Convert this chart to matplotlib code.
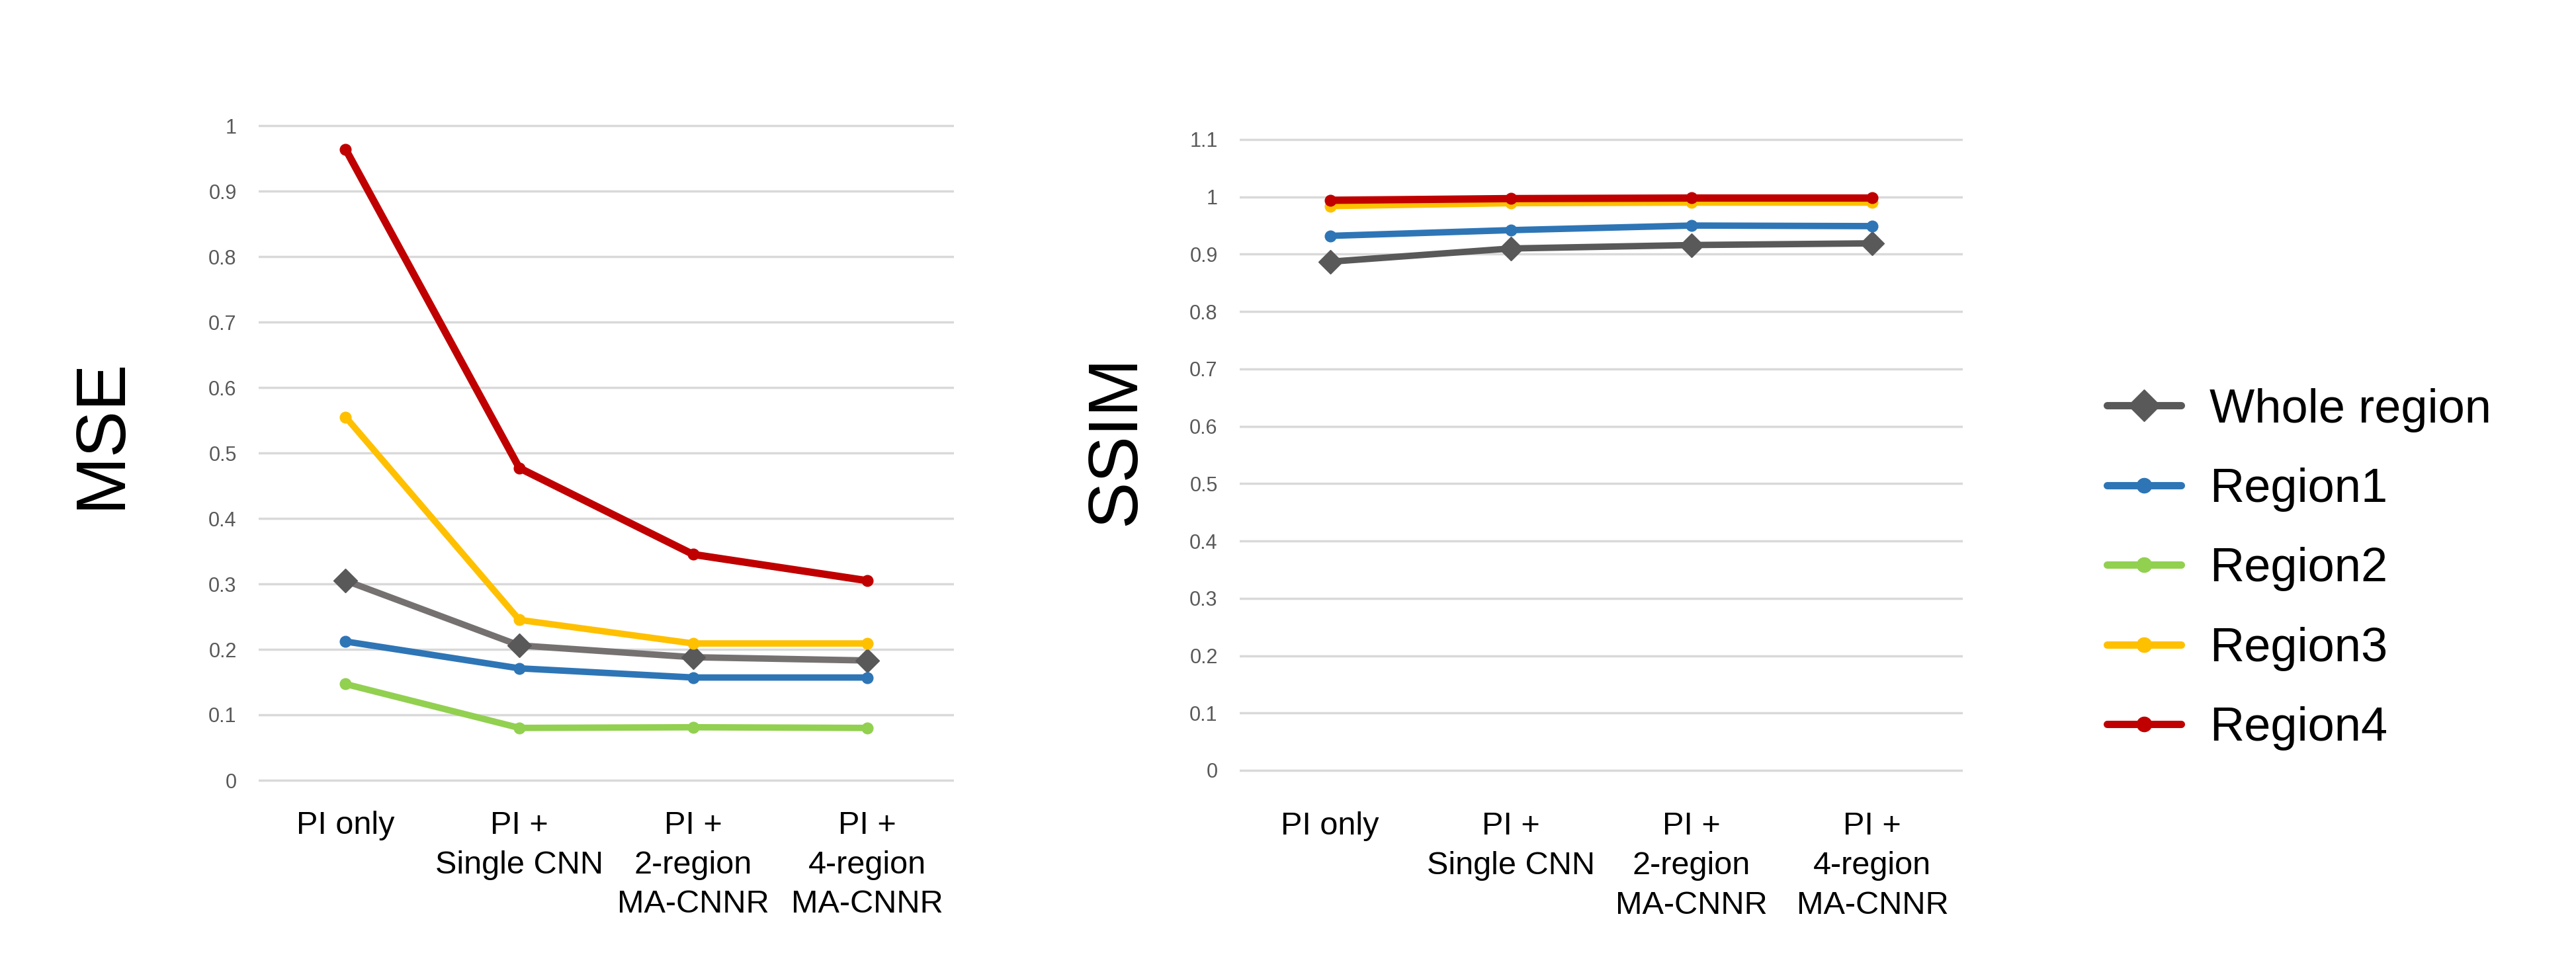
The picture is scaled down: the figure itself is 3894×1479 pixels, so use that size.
import matplotlib
matplotlib.use("Agg")
import matplotlib.pyplot as plt
from matplotlib.lines import Line2D

# categories on x axis
categories = ["PI only", "PI +\nSingle CNN", "PI +\n2-region\nMA-CNNR", "PI +\n4-region\nMA-CNNR"]
series_names = ["Whole region", "Region1", "Region2", "Region3", "Region4"]

# MSE values
mse_whole = [0.305, 0.206, 0.188, 0.183]
mse_r1 = [0.212, 0.171, 0.157, 0.157]
mse_r2 = [0.147, 0.080, 0.081, 0.080]
mse_r3 = [0.555, 0.245, 0.209, 0.209]
mse_r4 = [0.964, 0.477, 0.345, 0.305]

# SSIM values (Region2 is not drawn there)
ssim_whole = [0.887, 0.910, 0.916, 0.919]
ssim_r1 = [0.932, 0.942, 0.950, 0.949]
ssim_r3 = [0.984, 0.989, 0.990, 0.990]
ssim_r4 = [0.994, 0.997, 0.998, 0.998]

mse_ticks = [0, 0.1, 0.2, 0.3, 0.4, 0.5, 0.6, 0.7, 0.8, 0.9, 1]
ssim_ticks = [0, 0.1, 0.2, 0.3, 0.4, 0.5, 0.6, 0.7, 0.8, 0.9, 1, 1.1]

colors = ["#595959", "#2E75B6", "#92D050", "#FFC000", "#C00000"]
markers = ["D", "o", "o", "o", "o"]
widths = [7, 7, 7, 7, 8]

arial = ["Liberation Sans", "DejaVu Sans"]

fig = plt.figure(figsize=(38.94, 14.79), dpi=100)

W, H = 3894.0, 1479.0


def make_axes(x0, x1, ytop, ybot, vtop):
	# place axes so that value 0 sits at ybot and vtop at ytop (pixels from top)
	pad = 0.01 * vtop
	span = (ybot - ytop) / vtop
	top = ytop - pad * span
	bot = ybot + pad * span
	ax = fig.add_axes([x0 / W, 1 - bot / H, (x1 - x0) / W, (bot - top) / H])
	ax.set_ylim(-pad, vtop + pad)
	ax.set_xlim(-0.5, 3.5)
	return ax


def style_axes(ax, ticks, label_pad):
	for s in ax.spines.values():
		s.set_visible(False)
	ax.set_yticks(ticks)
	ax.set_yticklabels(["%g" % t for t in ticks], family=arial, fontsize=22, color="#595959")
	ax.set_xticks(range(len(categories)))
	ax.set_xticklabels(categories, family=arial, fontsize=35, color="black", linespacing=1.42, va="top")
	ax.tick_params(axis="y", length=0, pad=24)
	ax.tick_params(axis="x", length=0, pad=label_pad)
	ax.grid(axis="y", color="#D9D9D9", linewidth=2.5)
	ax.set_axisbelow(True)


x = list(range(len(categories)))

# left chart: MSE
ax1 = make_axes(391, 1442, 190, 1180, 1.0)
mse = [mse_whole, mse_r1, mse_r2, mse_r3, mse_r4]
for i, vals in enumerate(mse):
	lc = "#767171" if i == 0 else colors[i]
	ms = 18 if markers[i] == "D" else 12
	ax1.plot(x, vals, color=lc, linewidth=widths[i], marker=markers[i], markersize=ms,
		markerfacecolor=colors[i], markeredgecolor=colors[i], solid_capstyle="round", zorder=3)
style_axes(ax1, mse_ticks, 26)

# right chart: SSIM
ax2 = make_axes(1874, 2967, 211, 1165, 1.1)
ssim = {0: ssim_whole, 1: ssim_r1, 3: ssim_r3, 4: ssim_r4}
for i, vals in ssim.items():
	ms = 18 if markers[i] == "D" else 12
	ax2.plot(x, vals, color=colors[i], linewidth=widths[i], marker=markers[i], markersize=ms,
		markerfacecolor=colors[i], markeredgecolor=colors[i], solid_capstyle="round", zorder=3)
style_axes(ax2, ssim_ticks, 38)

# axis titles
fig.text(154 / W, 1 - 656 / H, "MSE", rotation=90, ha="center", va="center", fontsize=76, family=arial)
fig.text(1688 / W, 1 - 666 / H, "SSIM", rotation=90, ha="center", va="center", fontsize=76, family=arial)

# legend
handles = []
for i, name in enumerate(series_names):
	ms = 24 if markers[i] == "D" else 16
	handles.append(Line2D([0], [0], color=colors[i], linewidth=8, marker=markers[i], markersize=ms,
		solid_capstyle="round", label=name))
leg = fig.legend(handles=handles, loc="center left", bbox_to_anchor=(3185 / W, 1 - 861 / H),
	frameon=False, prop={"family": arial, "size": 52}, handlelength=1.55, handletextpad=0.6,
	labelspacing=0.74, borderpad=0, borderaxespad=0)

fig.savefig("out.png", dpi=100, facecolor="white")
